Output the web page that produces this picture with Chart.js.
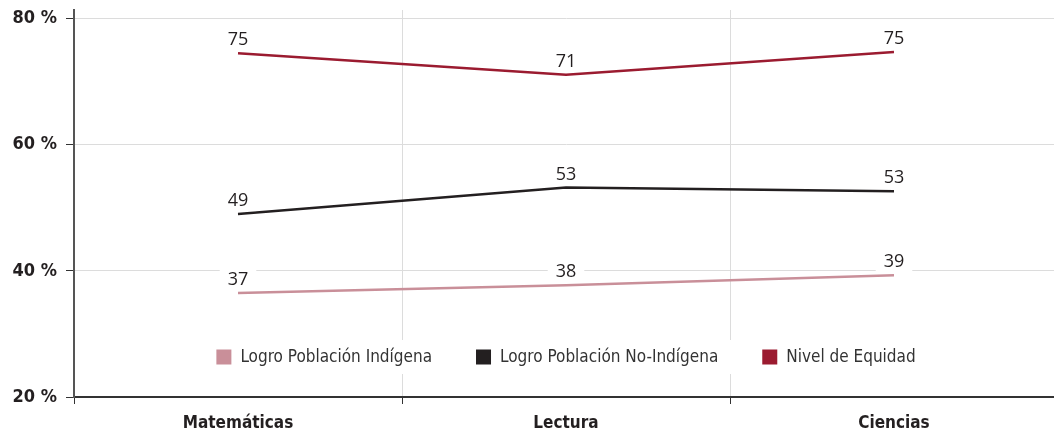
<!DOCTYPE html>
<html lang="es">
<head>
  <meta charset="UTF-8" />
  <title>Logro y equidad por área</title>
  <script src="https://cdn.jsdelivr.net/npm/chart.js"></script>
  <style>
    html, body {
      margin: 0;
      padding: 0;
      background: #fff;
      overflow: hidden;
    }
    #wrap {
      width: 1054px;
      height: 437px;
      overflow: hidden;
    }
  </style>
</head>
<body>
  <div id="wrap"><canvas id="chart" width="1058" height="437"></canvas></div>

  <script>
    // datos
    const categories = ['Matemáticas', 'Lectura', 'Ciencias'];
    const indigena = [36.5, 37.7, 39.3];
    const noIndigena = [49.0, 53.2, 52.6];
    const equidad = [74.5, 71.1, 74.7];
    const valueLabels = [
      ['37', '38', '39'],
      ['49', '53', '53'],
      ['75', '71', '75']
    ];
    const yTicks = [20, 40, 60, 80];
    const seriesNames = ['Logro Población Indígena', 'Logro Población No-Indígena', 'Nivel de Equidad'];

    const colors = ['#c98f99', '#231f20', '#9b1b30'];
    const narrow = "'DejaVu Sans Condensed', 'Liberation Sans Narrow', sans-serif";

    // etiquetas de valor con fondo blanco
    const valueLabelPlugin = {
      id: 'valueLabels',
      afterDatasetsDraw(chart) {
        const ctx = chart.ctx;
        ctx.save();
        ctx.font = "18px 'Open Sans', 'Noto Sans', sans-serif";
        ctx.textAlign = 'center';
        ctx.textBaseline = 'middle';
        chart.data.datasets.forEach((ds, i) => {
          const meta = chart.getDatasetMeta(i);
          meta.data.forEach((pt, j) => {
            const txt = valueLabels[i][j];
            const w = ctx.measureText(txt).width + 16;
            const cy = pt.y - 13;
            ctx.fillStyle = '#fff';
            ctx.fillRect(pt.x - w / 2, cy - 13, w, 23);
            ctx.fillStyle = '#231f20';
            ctx.fillText(txt, pt.x, cy);
          });
        });
        ctx.restore();
      }
    };

    // leyenda dentro del área del gráfico
    const innerLegendPlugin = {
      id: 'innerLegend',
      afterDatasetsDraw(chart) {
        const ctx = chart.ctx;
        const area = chart.chartArea;
        const box = 15, gapText = 9, gapItem = 44;
        const y = 357;
        ctx.save();
        ctx.font = '17px ' + narrow;
        const widths = seriesNames.map(n => ctx.measureText(n).width);
        let total = 0;
        widths.forEach((w, i) => { total += box + gapText + w + (i < widths.length - 1 ? gapItem : 0); });
        let x = (area.left + area.right) / 2 - total / 2;
        ctx.fillStyle = '#fff';
        ctx.fillRect(x - 16, y - 17, total + 32, 34);
        ctx.textBaseline = 'middle';
        ctx.textAlign = 'left';
        seriesNames.forEach((n, i) => {
          ctx.fillStyle = colors[i];
          ctx.fillRect(x, y - box / 2, box, box);
          x += box + gapText;
          ctx.fillStyle = '#333';
          ctx.fillText(n, x, y + 1);
          x += widths[i] + gapItem;
        });
        ctx.restore();
      }
    };

    new Chart(document.getElementById('chart').getContext('2d'), {
      type: 'line',
      data: {
        labels: categories,
        datasets: [indigena, noIndigena, equidad].map((d, i) => ({
          label: seriesNames[i],
          data: d,
          borderColor: colors[i],
          backgroundColor: colors[i],
          borderWidth: 2.5,
          pointRadius: 0,
          tension: 0
        }))
      },
      options: {
        responsive: false,
        animation: false,
        layout: { padding: { top: 10, right: 0, left: 0, bottom: 0 } },
        scales: {
          x: {
            offset: true,
            grid: {
              offset: true,
              color: '#dcdcdc',
              lineWidth: 1,
              tickColor: '#333',
              tickLength: 7,
              drawTicks: true
            },
            border: { color: '#333', width: 2 },
            ticks: {
              color: '#231f20',
              padding: 9,
              font: { family: narrow, size: 17, weight: 'bold' }
            },
            afterFit(scale) {
              scale.height = 40;
              scale.paddingLeft = 0;
              scale.paddingRight = 0;
            }
          },
          y: {
            min: 20,
            max: 81.35,
            afterBuildTicks(scale) {
              scale.ticks = yTicks.map(v => ({ value: v }));
            },
            grid: {
              color: '#dcdcdc',
              lineWidth: 1,
              tickColor: '#333',
              tickLength: 8
            },
            border: { color: '#555', width: 2 },
            ticks: {
              color: '#231f20',
              padding: 9,
              font: { family: narrow, size: 18, weight: 'bold' },
              callback: v => v + ' %'
            },
            afterFit(scale) {
              scale.width = 74;
              scale.paddingTop = 0;
              scale.paddingBottom = 0;
            }
          }
        },
        plugins: {
          legend: { display: false },
          tooltip: { enabled: false }
        }
      },
      plugins: [valueLabelPlugin, innerLegendPlugin]
    });
  </script>
</body>
</html>
